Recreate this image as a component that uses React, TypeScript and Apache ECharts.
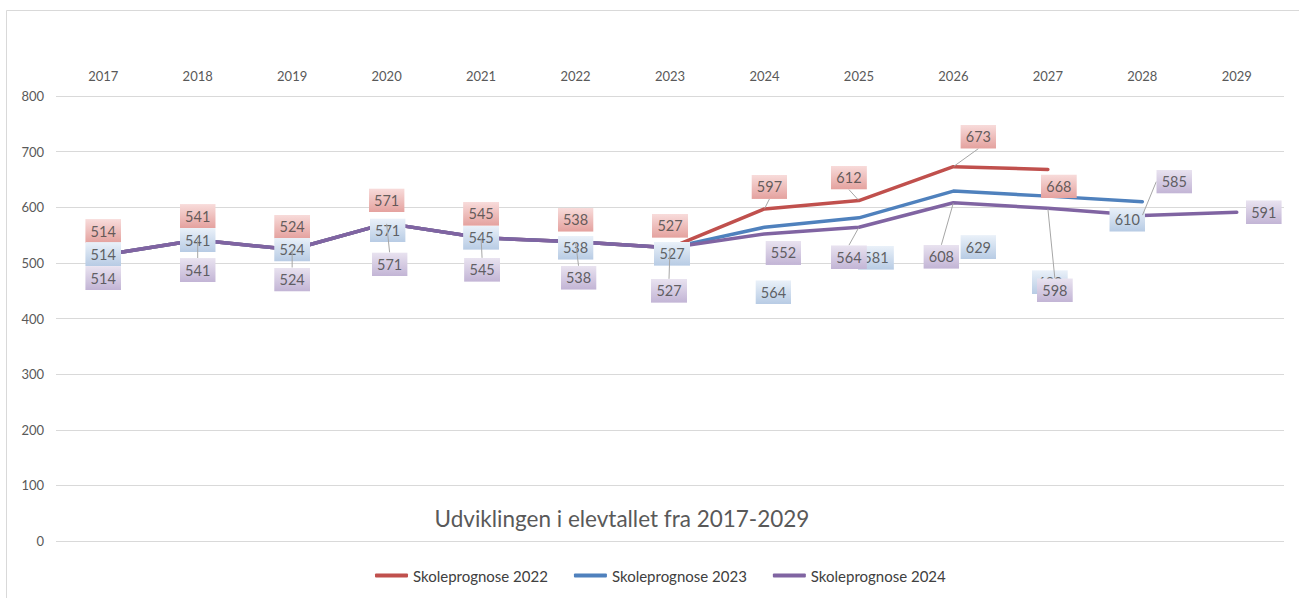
import React, { useEffect, useRef } from "react";
import * as echarts from "echarts";

const years = ["2017", "2018", "2019", "2020", "2021", "2022", "2023", "2024", "2025", "2026", "2027", "2028", "2029"];
const prognose2022 = [514, 541, 524, 571, 545, 538, 527, 597, 612, 673, 668, null, null];
const prognose2023 = [514, 541, 524, 571, 545, 538, 527, 564, 581, 629, 620, 610, null];
const prognose2024 = [514, 541, 524, 571, 545, 538, 527, 552, 564, 608, 598, 585, 591];
const seriesNames = ["Skoleprognose 2022", "Skoleprognose 2023", "Skoleprognose 2024"];
const chartTitle = "Udviklingen i elevtallet fra 2017-2029";

// label placement (pixel offsets from the point), as in the reference
const offsets2022 = [[0, -24], [0, -24], [0, -23], [0, -23], [0, -24], [0, -22], [0, -22], [5, -22], [-10, -23], [25, -30], [11, 17]];
const offsets2023 = [[0, -1], [0, 0], [0, 0], [1, 7], [0, 0], [0, 6], [2, 6], [9, 65], [17, 40], [25, 56], [2, 86], [-15, 18]];
const offsets2024 = [[0, 23], [0, 30], [0, 30], [3, 41], [1, 32], [3, 36], [-1, 43], [19, 19], [-10, 30], [-12, 54], [7, 82], [32, -34], [27, 0]];
const leaders2022 = [7, 8, 9];
const leaders2023: number[] = [];
const leaders2024 = [1, 2, 3, 4, 5, 6, 8, 9, 10, 11];

const colors = ["#C0504D", "#4F81BD", "#8064A2"];
const gradients = [
  ["#f8dcdb", "#e4a19e"],
  ["#eaf1f9", "#b7cbe4"],
  ["#e9e3f0", "#c2b4d5"],
];

function gradImg(top: string, bottom: string) {
  const svg = `<svg xmlns='http://www.w3.org/2000/svg' width='36' height='24' preserveAspectRatio='none'><defs><linearGradient id='g' x1='0' y1='0' x2='0' y2='1'><stop offset='0' stop-color='${top}'/><stop offset='1' stop-color='${bottom}'/></linearGradient></defs><rect width='36' height='24' fill='url(#g)'/></svg>`;
  return "data:image/svg+xml;charset=utf-8," + encodeURIComponent(svg);
}

const FONT = "Lato, 'Open Sans', sans-serif";

export default function App() {
  const ref = useRef<HTMLDivElement>(null);
  useEffect(() => {
    if (!ref.current) return;
    const chart = echarts.init(ref.current, undefined, { renderer: "svg" });
    const all = [prognose2022, prognose2023, prognose2024];
    const offs = [offsets2022, offsets2023, offsets2024];
    const leads = [leaders2022, leaders2023, leaders2024];

    const lineSeries = all.map((d, k) => ({
      name: seriesNames[k],
      type: "line",
      data: d,
      z: 2,
      showSymbol: false,
      symbol: "none",
      color: colors[k],
      lineStyle: { color: colors[k], width: 3.5, cap: "round", join: "round" },
      emphasis: { disabled: true },
      silent: true,
    }));

    const labelSeries = all.map((d, k) => ({
      type: "scatter",
      z: 3 + k,
      symbolSize: 1,
      itemStyle: { color: "rgba(0,0,0,0)" },
      silent: true,
      data: d.map((v, i) =>
        v == null
          ? null
          : {
              value: v,
              labelLine: { show: leads[k].includes(i) },
            }
      ),
      label: {
        show: true,
        position: "inside",
        color: "#404040",
        fontFamily: FONT,
        fontSize: 14.5,
        lineHeight: 16,
        padding: [4, 6],
        width: 24,
        align: "center",
        backgroundColor: { image: gradImg(gradients[k][0], gradients[k][1]) },
      },
      labelLine: {
        show: false,
        lineStyle: { color: "#a6a6a6", width: 1 },
      },
      labelLayout: (p: any) => {
        const o = offs[k][p.dataIndex] || [0, 0];
        return { dx: o[0], dy: o[1] };
      },
    }));

    chart.setOption({
      animation: false,
      backgroundColor: "#ffffff",
      textStyle: { fontFamily: FONT },
      grid: { left: 56, right: 15, top: 96, bottom: 57, containLabel: false },
      legend: {
        data: seriesNames,
        left: 370,
        top: 563,
        icon: "roundRect",
        itemWidth: 33,
        itemHeight: 4,
        itemGap: 26,
        selectedMode: false,
        textStyle: { color: "#404040", fontSize: 15, fontFamily: FONT },
      },
      xAxis: {
        type: "category",
        position: "top",
        data: years,
        boundaryGap: true,
        axisLine: { show: false },
        axisTick: { show: false },
        axisLabel: { color: "#595959", fontSize: 13, margin: 14, fontFamily: FONT },
        splitLine: { show: false },
      },
      yAxis: {
        type: "value",
        min: 0,
        max: 800,
        interval: 100,
        axisLine: { show: false },
        axisTick: { show: false },
        axisLabel: { color: "#595959", fontSize: 13, margin: 12, fontFamily: FONT },
        splitLine: { lineStyle: { color: "#d9d9d9", width: 1 } },
      },
      graphic: [
        {
          type: "rect",
          left: 4,
          top: 8,
          shape: { width: 1310, height: 610 },
          style: { fill: "none", stroke: "#d9d9d9", lineWidth: 1 },
          silent: true,
        },
        {
          type: "text",
          x: 622,
          y: 518,
          style: {
            text: chartTitle,
            fill: "#595959",
            fontSize: 22.5,
            fontFamily: FONT,
            align: "center",
            verticalAlign: "middle",
          },
          silent: true,
        },
      ],
      series: [...lineSeries, ...labelSeries],
    });
    return () => chart.dispose();
  }, []);
  return (
    <div
      ref={ref}
      style={{ position: "fixed", left: 0, top: 0, width: 1299, height: 598, background: "#fff" }}
    />
  );
}
